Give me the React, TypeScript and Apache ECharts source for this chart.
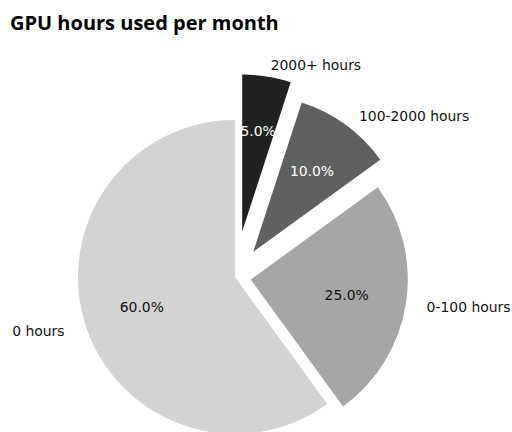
import React, { useEffect, useRef } from 'react';
import * as echarts from 'echarts';

// ---- data (clockwise from 12 o'clock) ----
const categories = ['2000+ hours', '100-2000 hours', '0-100 hours', '0 hours'];
const shares = [5, 10, 25, 60];
const titleText = 'GPU hours used per month';

// ---- styling / layout ----
const sliceColors = ['#202221', '#5f6160', '#a6a6a6', '#d3d3d3'];
const pctTextColors = ['#ffffff', '#ffffff', '#111111', '#111111'];
const explodeOffsets = [46, 31, 16, 0];
const nameLineLen = [12, 11, 20, 17];
const nameGap = [2, 7, 1, 5];
const pctInner = [41, 37, 31, 33];
const CENTER = [235, 277];
const R = 157;
const FONT = 'DejaVu Sans';

export default function App() {
  const ref = useRef<HTMLDivElement>(null);
  useEffect(() => {
    document.body.style.margin = '0';
    const chart = echarts.init(ref.current!, null, { renderer: 'svg' });

    const base = (i: number) => ({
      type: 'pie' as const,
      center: CENTER,
      startAngle: 90,
      clockwise: true,
      avoidLabelOverlap: false,
      silent: true,
      emphasis: { disabled: true },
      selectedMode: explodeOffsets[i] > 0 ? 'single' : false,
      selectedOffset: explodeOffsets[i],
    });

    const sliceSeries = categories.map((_, i) => ({
      ...base(i),
      name: 'slice' + i,
      radius: [0, R],
      label: {
        show: true,
        position: 'outside',
        formatter: '{b}',
        fontFamily: FONT,
        fontSize: 13.9,
        color: '#111111',
        distanceToLabelLine: nameGap[i],
      },
      labelLine: { show: false, length: nameLineLen[i], length2: 0 },
      data: shares.map((v, j) => ({
        name: categories[j],
        value: v,
        selected: j === i && explodeOffsets[i] > 0,
        itemStyle: {
          color: j === i ? sliceColors[i] : 'rgba(0,0,0,0)',
          borderWidth: 0,
        },
        select: {
          itemStyle: {
            color: j === i ? sliceColors[i] : 'rgba(0,0,0,0)',
            borderWidth: 0,
          },
        },
        label: { show: j === i },
      })),
    }));

    const pctSeries = categories.map((_, i) => ({
      ...base(i),
      name: 'pct' + i,
      radius: [pctInner[i], R],
      label: {
        show: true,
        position: 'inside',
        formatter: (p: any) => p.percent.toFixed(1) + '%',
        fontFamily: FONT,
        fontSize: 13.9,
        color: pctTextColors[i],
      },
      labelLine: { show: false },
      data: shares.map((v, j) => ({
        name: categories[j],
        value: v,
        selected: j === i && explodeOffsets[i] > 0,
        itemStyle: { color: 'rgba(0,0,0,0)', borderWidth: 0 },
        select: { itemStyle: { color: 'rgba(0,0,0,0)', borderWidth: 0 } },
        label: { show: j === i },
      })),
    }));

    chart.setOption({
      animation: false,
      backgroundColor: '#ffffff',
      title: {
        text: titleText,
        left: 10,
        top: 12,
        padding: 0,
        textStyle: {
          fontFamily: 'Open Sans',
          fontWeight: 'bold',
          fontSize: 20,
          color: '#000000',
        },
      },
      series: [...sliceSeries, ...pctSeries],
    } as any);
    return () => chart.dispose();
  }, []);
  return <div ref={ref} style={{ width: 512, height: 432 }} />;
}
